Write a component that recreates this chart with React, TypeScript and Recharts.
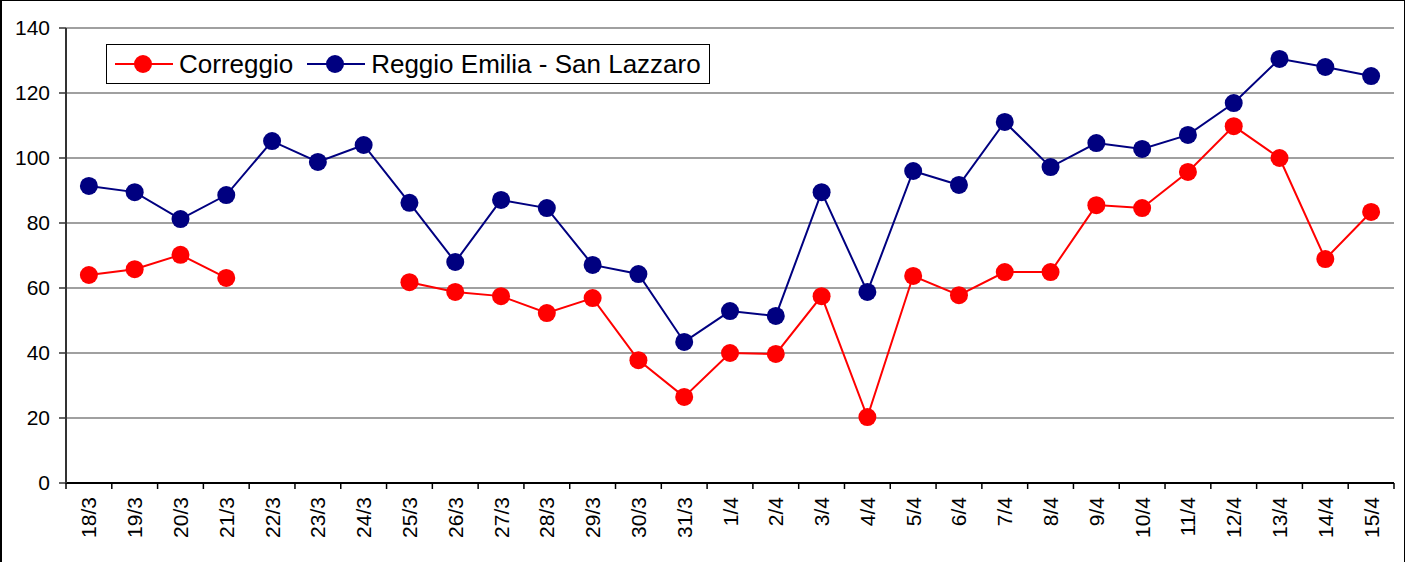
import { LineChart, Line, XAxis, YAxis, CartesianGrid, Legend } from 'recharts';

const days = [
	'18/3', '19/3', '20/3', '21/3', '22/3', '23/3', '24/3', '25/3', '26/3', '27/3',
	'28/3', '29/3', '30/3', '31/3', '1/4', '2/4', '3/4', '4/4', '5/4', '6/4',
	'7/4', '8/4', '9/4', '10/4', '11/4', '12/4', '13/4', '14/4', '15/4',
];

const correggio = [
	64, 65.8, 70.2, 63.1, null, null, null, 61.8, 58.8, 57.5,
	52.3, 56.9, 37.8, 26.5, 40, 39.7, 57.5, 20.3, 63.7, 57.8,
	64.9, 64.9, 85.5, 84.6, 95.7, 109.8, 100, 68.9, 83.4,
];

const reggioEmilia = [
	91.4, 89.5, 81.2, 88.6, 105.2, 98.8, 104, 86.2, 68, 87.1,
	84.6, 67.1, 64.3, 43.4, 52.9, 51.4, 89.5, 58.8, 96, 91.7,
	111.1, 97.2, 104.6, 102.8, 107.1, 116.9, 130.5, 128, 125.2,
];

const yTicks = [0, 20, 40, 60, 80, 100, 120, 140];

const data = days.map((day, i) => ({
	day,
	correggio: correggio[i],
	reggio: reggioEmilia[i],
}));

const W = 1413;
const H = 562;
const MARGIN = { top: 28, right: 19, left: 0, bottom: 0 };
const Y_AXIS_W = 66;
const X_AXIS_H = 79;
const PLOT_W = W - MARGIN.left - MARGIN.right - Y_AXIS_W;
const HALF_BAND = PLOT_W / days.length / 2;
const FONT = '"Liberation Sans", Arial, sans-serif';
const TICK_SIZE = 6;
const TICK_MARGIN = 2;

function DayTick(props: any) {
	const { x, y, payload, index } = props;
	const axisY = y - TICK_SIZE - TICK_MARGIN;
	return (
		<g>
			<line x1={x - HALF_BAND} x2={x - HALF_BAND} y1={axisY} y2={axisY + 6} stroke="#000" strokeWidth={1.5} />
			{index === days.length - 1 && (
				<line x1={x + HALF_BAND} x2={x + HALF_BAND} y1={axisY} y2={axisY + 6} stroke="#000" strokeWidth={1.5} />
			)}
			<text
				x={x}
				y={axisY + 14}
				transform={`rotate(-90 ${x} ${axisY + 14})`}
				textAnchor="end"
				dominantBaseline="central"
				fontSize={21}
				fontFamily={FONT}
				fill="#000"
			>
				{payload.value}
			</text>
		</g>
	);
}

function LegendBox(props: any) {
	const { payload } = props;
	return (
		<div
			style={{
				display: 'inline-flex',
				alignItems: 'center',
				height: 40,
				boxSizing: 'border-box',
				border: '1px solid #000',
				background: '#fff',
				padding: '0 8px',
				fontFamily: FONT,
				fontSize: 26,
				color: '#000',
				whiteSpace: 'nowrap',
			}}
		>
			{payload.map((entry: any, i: number) => (
				<div key={entry.value} style={{ display: 'flex', alignItems: 'center', marginLeft: i === 0 ? 0 : 14 }}>
					<svg width={58} height={24} style={{ display: 'block' }}>
						<line x1={0} x2={58} y1={12} y2={12} stroke={entry.color} strokeWidth={2} />
						<circle cx={28} cy={12} r={9} fill={entry.color} />
					</svg>
					<span style={{ marginLeft: 6, lineHeight: '26px' }}>{entry.value}</span>
				</div>
			))}
		</div>
	);
}

export default function App() {
	return (
		<div style={{ position: 'absolute', left: 0, top: 0, width: W, height: H, overflow: 'hidden', background: '#fff' }}>
			<div
				style={{
					position: 'absolute',
					left: 0,
					top: 0,
					width: 1405,
					height: H,
					boxSizing: 'border-box',
					borderLeft: '2px solid #000',
					borderTop: '1px solid #000',
					borderRight: '1px solid #000',
				}}
			/>
			<LineChart width={W} height={H} data={data} margin={MARGIN}>
				<CartesianGrid vertical={false} stroke="#808080" strokeWidth={1.5} />
				<XAxis
					dataKey="day"
					scale="band"
					height={X_AXIS_H}
					interval={0}
					tickLine={false}
					tickSize={TICK_SIZE}
					tickMargin={TICK_MARGIN}
					axisLine={{ stroke: '#000', strokeWidth: 2 }}
					tick={<DayTick />}
				/>
				<YAxis
					width={Y_AXIS_W}
					domain={[0, 140]}
					ticks={yTicks}
					interval={0}
					tickSize={7}
					tickMargin={9}
					axisLine={{ stroke: '#333', strokeWidth: 2 }}
					tickLine={{ stroke: '#333', strokeWidth: 1.5 }}
					tick={{ fontSize: 21, fontFamily: FONT, fill: '#000' }}
				/>
				<YAxis
					yAxisId="frame"
					orientation="right"
					width={0}
					domain={[0, 140]}
					tick={false}
					tickLine={false}
					axisLine={{ stroke: '#808080', strokeWidth: 2.5 }}
				/>
				<Legend
					layout="horizontal"
					verticalAlign="middle"
					align="center"
					content={<LegendBox />}
					wrapperStyle={{ left: 106, top: 44, width: 'auto' }}
				/>
				<Line
					dataKey="correggio"
					name="Correggio"
					stroke="#FF0000"
					strokeWidth={2}
					dot={{ r: 9, fill: '#FF0000', stroke: 'none' }}
					activeDot={false}
					isAnimationActive={false}
				/>
				<Line
					dataKey="reggio"
					name="Reggio Emilia - San Lazzaro"
					stroke="#000080"
					strokeWidth={2}
					dot={{ r: 9, fill: '#000080', stroke: 'none' }}
					activeDot={false}
					isAnimationActive={false}
				/>
			</LineChart>
		</div>
	);
}
